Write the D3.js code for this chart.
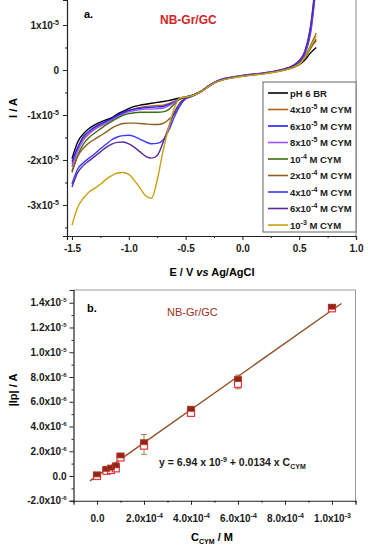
<!DOCTYPE html>
<html>
<head>
<meta charset="utf-8">
<script src="https://cdn.jsdelivr.net/npm/d3@7"></script>
<style>
body { margin: 0; background: #fff; }
svg { font-family: "Liberation Sans", Arial, sans-serif; }
.tick text { font-weight: bold; font-size: 10px; fill: #1a1a1a; }
.domain { stroke: #222; }
.tick line { stroke: #222; }
</style>
</head>
<body>
<div class="chart"></div>
<script>
var w = 368;
var h = 550;

// ---- panel a: linear sweep voltammograms (current in units of 1e-5 A) ----
var potential = [-1.5,-1.45,-1.4,-1.35,-1.3,-1.25,-1.2,-1.15,-1.1,-1.05,-1.0,-0.95,-0.9,-0.85,-0.8,-0.75,-0.7,-0.65,-0.6,-0.55,
  -0.5,-0.45,-0.4,-0.35,-0.3,-0.25,-0.2,-0.1,0,0.1,0.2,0.3,0.4,0.45,0.5,0.55,0.6,0.65];

var curveBlank = [-1.97,-1.6,-1.42,-1.30,-1.22,-1.16,-1.11,-1.06,-0.98,-0.92,-0.86,-0.81,-0.78,-0.76,-0.74,-0.72,-0.70,-0.68,-0.65,-0.62,
  -0.60,-0.57,-0.52,-0.45,-0.36,-0.28,-0.23,-0.17,-0.13,-0.10,-0.07,-0.03,0.02,0.06,0.12,0.22,0.38,0.50];
var curve4e5 = [-2.10,-1.75,-1.52,-1.40,-1.30,-1.22,-1.15,-1.09,-1.02,-0.96,-0.90,-0.86,-0.83,-0.81,-0.80,-0.79,-0.78,-0.75,-0.70,-0.64,
  -0.60,-0.57,-0.52,-0.45,-0.36,-0.28,-0.23,-0.17,-0.13,-0.10,-0.07,-0.03,0.03,0.08,0.15,0.30,0.55,0.82];
var curve6e5 = [-2.04,-1.72,-1.48,-1.36,-1.27,-1.20,-1.14,-1.08,-1.01,-0.95,-0.90,-0.87,-0.85,-0.84,-0.83,-0.82,-0.81,-0.77,-0.71,-0.64,
  -0.60,-0.57,-0.52,-0.45,-0.36,-0.28,-0.22,-0.16,-0.12,-0.09,-0.06,-0.02,0.04,0.09,0.18,0.36,0.82,1.90];
var curve8e5 = [-2.15,-1.80,-1.56,-1.42,-1.32,-1.25,-1.18,-1.11,-1.04,-0.98,-0.93,-0.90,-0.88,-0.87,-0.87,-0.86,-0.85,-0.80,-0.72,-0.64,
  -0.60,-0.57,-0.52,-0.45,-0.36,-0.28,-0.22,-0.16,-0.12,-0.09,-0.06,-0.02,0.04,0.09,0.19,0.38,0.88,2.00];
var curve1e4 = [-2.25,-1.90,-1.65,-1.50,-1.40,-1.31,-1.22,-1.14,-1.07,-1.01,-0.97,-0.95,-0.94,-0.94,-0.94,-0.94,-0.93,-0.88,-0.76,-0.65,
  -0.60,-0.57,-0.52,-0.45,-0.36,-0.28,-0.23,-0.17,-0.13,-0.10,-0.07,-0.03,0.02,0.07,0.14,0.27,0.48,0.68];
var curve2e4 = [-2.28,-1.92,-1.74,-1.62,-1.54,-1.46,-1.38,-1.29,-1.23,-1.19,-1.18,-1.18,-1.19,-1.20,-1.21,-1.21,-1.19,-1.10,-0.98,-0.78,
  -0.62,-0.58,-0.53,-0.46,-0.37,-0.29,-0.24,-0.18,-0.14,-0.11,-0.08,-0.04,0.02,0.06,0.13,0.27,0.50,0.65];
var curve4e4 = [-2.53,-2.20,-2.06,-1.96,-1.86,-1.75,-1.65,-1.55,-1.49,-1.46,-1.45,-1.48,-1.54,-1.60,-1.64,-1.63,-1.56,-1.35,-1.05,-0.80,
  -0.64,-0.59,-0.53,-0.46,-0.37,-0.29,-0.23,-0.17,-0.13,-0.10,-0.07,-0.02,0.04,0.10,0.20,0.40,0.92,2.00];
var curve6e4 = [-2.60,-2.28,-2.12,-2.02,-1.92,-1.82,-1.72,-1.65,-1.61,-1.60,-1.64,-1.72,-1.82,-1.92,-1.96,-1.90,-1.62,-1.28,-0.95,-0.73,
  -0.63,-0.59,-0.53,-0.46,-0.37,-0.29,-0.23,-0.17,-0.13,-0.10,-0.07,-0.02,0.05,0.11,0.21,0.42,0.98,2.10];
var curve1e3 = [-3.45,-3.05,-2.85,-2.71,-2.63,-2.54,-2.43,-2.35,-2.29,-2.28,-2.32,-2.46,-2.63,-2.80,-2.85,-2.45,-1.82,-1.28,-0.85,-0.62,
  -0.60,-0.58,-0.53,-0.46,-0.37,-0.29,-0.24,-0.18,-0.14,-0.11,-0.08,-0.04,0.02,0.06,0.13,0.28,0.52,0.75];

// legend labels: [base, superscript, rest]
var legendLabels = [["pH 6 BR","",""],["4x10","-5"," M CYM"],["6x10","-5"," M CYM"],["8x10","-5"," M CYM"],["10","-4"," M CYM"],
  ["2x10","-4"," M CYM"],["4x10","-4"," M CYM"],["6x10","-4"," M CYM"],["10","-3"," M CYM"]];
var lineColors = ["#000000","#b0601e","#2020ff","#a050ff","#3a6e10","#8f5f22","#3a3aff","#5a2a9a","#c8a010"];
var curves = [curveBlank, curve4e5, curve6e5, curve8e5, curve1e4, curve2e4, curve4e4, curve6e4, curve1e3];

var xTicksA = [-1.5,-1.0,-0.5,0,0.5,1.0];
var yTicksA = [1,0,-1,-2,-3];
var yTickLabelsA = [["1x10","-5"],["0",""],["-1x10","-5"],["-2x10","-5"],["-3x10","-5"]];

// ---- panel b: calibration ----
var concentration = [0,4e-5,6e-5,8e-5,1e-4,2e-4,4e-4,6e-4,1e-3];
var peakCurrent = [0.05e-6,0.5e-6,0.6e-6,0.78e-6,1.58e-6,2.65e-6,5.35e-6,7.75e-6,13.6e-6];
var peakCurrentB = [0.0,0.42e-6,0.48e-6,0.62e-6,1.5e-6,2.45e-6,5.1e-6,7.45e-6,13.55e-6];
var peakError = [0.1e-6,0.12e-6,0.15e-6,0.3e-6,0.15e-6,0.8e-6,0.4e-6,0.55e-6,0.1e-6];
var fitIntercept = 6.94e-9;
var fitSlope = 0.0134;
var fitRange = [-3e-5, 1.04e-3];

var xTicksB = [0,2e-4,4e-4,6e-4,8e-4,1e-3];
var xTickLabelsB = [["0.0",""],["2.0x10","-4"],["4.0x10","-4"],["6.0x10","-4"],["8.0x10","-4"],["1.0x10","-3"]];
var yTicksB = [1.4e-5,1.2e-5,1.0e-5,8e-6,6e-6,4e-6,2e-6,0,-2e-6];
var yTickLabelsB = [["1.4x10","-5"],["1.2x10","-5"],["1.0x10","-5"],["8.0x10","-6"],["6.0x10","-6"],["4.0x10","-6"],["2.0x10","-6"],["0.0",""],["-2.0x10","-6"]];

var svg = d3.select(".chart").append("svg")
  .attr("width", w)
  .attr("height", h);

function supText(sel, base, sup, rest, supSize) {
  sel.text(null);
  sel.append("tspan").text(base);
  if (sup) {
    sel.append("tspan").attr("dy", -4).attr("font-size", supSize || "7px").text(sup);
    if (rest) sel.append("tspan").attr("dy", 4).text(rest);
  } else if (rest) {
    sel.append("tspan").text(rest);
  }
}

// ================= panel a =================
var xA = d3.scaleLinear().domain([-1.544, 1.0]).range([67, 356]);
var yA = d3.scaleLinear().domain([-3.69, 1.556]).range([236, 0]);

svg.append("clipPath").attr("id", "clipA")
  .append("rect").attr("x", 67).attr("y", 0).attr("width", 289).attr("height", 236);

// frame right
svg.append("line").attr("x1", 356).attr("x2", 356).attr("y1", 0).attr("y2", 236)
  .attr("stroke", "#888").attr("stroke-width", 1);

var lineA = d3.line()
  .x(function(d) { return xA(d[0]); })
  .y(function(d) { return yA(d[1]); })
  .curve(d3.curveMonotoneX);

var gCurves = svg.append("g").attr("clip-path", "url(#clipA)");
curves.forEach(function(c, i) {
  gCurves.append("path")
    .datum(potential.map(function(e, k) { return [e, c[k]]; }))
    .attr("fill", "none")
    .attr("stroke", lineColors[i])
    .attr("stroke-width", 1.4)
    .attr("d", lineA);
});

// axes a
var gxA = svg.append("g").attr("transform", "translate(0,236)")
  .call(d3.axisBottom(xA).tickValues(xTicksA).tickSize(4).tickPadding(5)
    .tickFormat(function(d) { return d.toFixed(1); }));
gxA.select(".domain").attr("stroke-width", 1.2);
svg.append("g").attr("transform", "translate(0,236)")
  .call(d3.axisBottom(xA).tickValues([-1.25,-0.75,-0.25,0.25,0.75]).tickSize(2).tickFormat(""))
  .select(".domain").remove();

var gyA = svg.append("g").attr("transform", "translate(67,0)")
  .call(d3.axisLeft(yA).tickValues(yTicksA).tickSize(4).tickPadding(4));
gyA.select(".domain").attr("stroke-width", 1.2);
gyA.selectAll(".tick text").each(function(d, i) {
  supText(d3.select(this), yTickLabelsA[i][0], yTickLabelsA[i][1], "");
});
svg.append("g").attr("transform", "translate(67,0)")
  .call(d3.axisLeft(yA).tickValues([0.5,-0.5,-1.5,-2.5,-3.5]).tickSize(2).tickFormat(""))
  .select(".domain").remove();

// titles a
svg.append("text").attr("transform", "translate(17,108) rotate(-90)")
  .attr("text-anchor", "middle").attr("font-size", "11px").attr("font-weight", "bold")
  .text("I / A");
var tx = svg.append("text").attr("x", 212).attr("y", 276)
  .attr("text-anchor", "middle").attr("font-size", "11px").attr("font-weight", "bold");
tx.append("tspan").text("E / V ");
tx.append("tspan").attr("font-style", "italic").text("vs");
tx.append("tspan").text(" Ag/AgCl");

svg.append("text").attr("x", 84).attr("y", 18).attr("font-size", "11px").attr("font-weight", "bold").text("a.");
svg.append("text").attr("x", 160).attr("y", 24).attr("font-size", "12px").attr("font-weight", "bold")
  .attr("fill", "#d0262b").text("NB-Gr/GC");

// legend a
var legend = svg.append("g");
legend.append("rect").attr("x", 263).attr("y", 82).attr("width", 93).attr("height", 150)
  .attr("fill", "#fff").attr("stroke", "#666").attr("stroke-width", 1);
legendLabels.forEach(function(lab, i) {
  var yy = 93 + i * 16.5;
  legend.append("line").attr("x1", 268).attr("x2", 288).attr("y1", yy).attr("y2", yy)
    .attr("stroke", lineColors[i]).attr("stroke-width", 1.6);
  var t = legend.append("text").attr("x", 290).attr("y", yy + 3.5)
    .attr("font-size", "9.5px").attr("font-weight", "bold").attr("fill", "#1a1a1a");
  supText(t, lab[0], lab[1], lab[2], "7px");
});

// ================= panel b =================
var xB = d3.scaleLinear().domain([-1e-4, 1.1e-3]).range([73.5, 355.5]);
var yB = d3.scaleLinear().domain([-2e-6, 15.03e-6]).range([500.75, 290]);

// frame top/right
svg.append("path")
  .attr("d", "M" + xB(-1e-4) + "," + yB(15.03e-6) + "H" + xB(1.1e-3) + "V" + yB(-2e-6))
  .attr("fill", "none").attr("stroke", "#999").attr("stroke-width", 1);

var gxB = svg.append("g").attr("transform", "translate(0," + yB(-2e-6) + ")")
  .call(d3.axisBottom(xB).tickValues(xTicksB).tickSize(4).tickPadding(10));
gxB.select(".domain").attr("stroke-width", 1.2);
gxB.selectAll(".tick text").each(function(d, i) {
  supText(d3.select(this), xTickLabelsB[i][0], xTickLabelsB[i][1], "");
});
svg.append("g").attr("transform", "translate(0," + yB(-2e-6) + ")")
  .call(d3.axisBottom(xB).tickValues([-1e-4,1e-4,3e-4,5e-4,7e-4,9e-4,1.1e-3]).tickSize(2).tickFormat(""))
  .select(".domain").remove();

var gyB = svg.append("g").attr("transform", "translate(" + xB(-1e-4) + ",0)")
  .call(d3.axisLeft(yB).tickValues(yTicksB).tickSize(4).tickPadding(3));
gyB.select(".domain").attr("stroke-width", 1.2);
gyB.selectAll(".tick text").each(function(d, i) {
  supText(d3.select(this), yTickLabelsB[i][0], yTickLabelsB[i][1], "", "6px");
});
svg.append("g").attr("transform", "translate(" + xB(-1e-4) + ",0)")
  .call(d3.axisLeft(yB).tickValues([-1e-6,1e-6,3e-6,5e-6,7e-6,9e-6,1.1e-5,1.3e-5]).tickSize(2).tickFormat(""))
  .select(".domain").remove();

// fit line
svg.append("line")
  .attr("x1", xB(fitRange[0])).attr("y1", yB(fitIntercept + fitSlope * fitRange[0]))
  .attr("x2", xB(fitRange[1])).attr("y2", yB(fitIntercept + fitSlope * fitRange[1]))
  .attr("stroke", "#8b4a1e").attr("stroke-width", 1.3);

// error bars
var gErr = svg.append("g").attr("stroke", "#a0703a").attr("stroke-width", 0.9);
concentration.forEach(function(c, i) {
  var cx = xB(c);
  var yc = yB((peakCurrent[i] + peakCurrentB[i]) / 2);
  var hi = yB((peakCurrent[i] + peakCurrentB[i]) / 2 + peakError[i]);
  var lo = yB((peakCurrent[i] + peakCurrentB[i]) / 2 - peakError[i]);
  gErr.append("line").attr("x1", cx).attr("x2", cx).attr("y1", hi).attr("y2", lo);
  gErr.append("line").attr("x1", cx - 3).attr("x2", cx + 3).attr("y1", hi).attr("y2", hi);
  gErr.append("line").attr("x1", cx - 3).attr("x2", cx + 3).attr("y1", lo).attr("y2", lo);
});

// markers: hollow red squares, then filled dark squares
svg.append("g").selectAll("rect").data(concentration).enter().append("rect")
  .attr("x", function(d) { return xB(d) - 3.5; })
  .attr("y", function(d, i) { return yB(peakCurrentB[i]) - 3.5; })
  .attr("width", 7).attr("height", 7)
  .attr("fill", "#fff").attr("stroke", "#e8343a").attr("stroke-width", 1.2);
svg.append("g").selectAll("rect").data(concentration).enter().append("rect")
  .attr("x", function(d) { return xB(d) - 3.5; })
  .attr("y", function(d, i) { return yB(peakCurrent[i]) - 3.5; })
  .attr("width", 7).attr("height", 5)
  .attr("fill", "#8b2a14").attr("stroke", "#c0302a").attr("stroke-width", 0.8);

// titles b
svg.append("text").attr("transform", "translate(17,390) rotate(-90)")
  .attr("text-anchor", "middle").attr("font-size", "11px").attr("font-weight", "bold")
  .text("|Ip| / A");
var cx = svg.append("text").attr("x", 212).attr("y", 541)
  .attr("text-anchor", "middle").attr("font-size", "11px").attr("font-weight", "bold");
cx.append("tspan").text("C");
cx.append("tspan").attr("dy", 3).attr("font-size", "7px").text("CYM");
cx.append("tspan").attr("dy", -3).text(" / M");

svg.append("text").attr("x", 87).attr("y", 312).attr("font-size", "11px").attr("font-weight", "bold").text("b.");
svg.append("text").attr("x", 167).attr("y", 316).attr("font-size", "11px")
  .attr("fill", "#a0301a").text("NB-Gr/GC");

var eq = svg.append("text").attr("x", 159).attr("y", 466)
  .attr("font-size", "10.5px").attr("font-weight", "bold").attr("fill", "#1a1a1a");
eq.append("tspan").text("y = 6.94 x 10");
eq.append("tspan").attr("dy", -4).attr("font-size", "7px").text("-9");
eq.append("tspan").attr("dy", 4).text(" + 0.0134 x C");
eq.append("tspan").attr("dy", 3).attr("font-size", "7px").text("CYM");
</script>
</body>
</html>
